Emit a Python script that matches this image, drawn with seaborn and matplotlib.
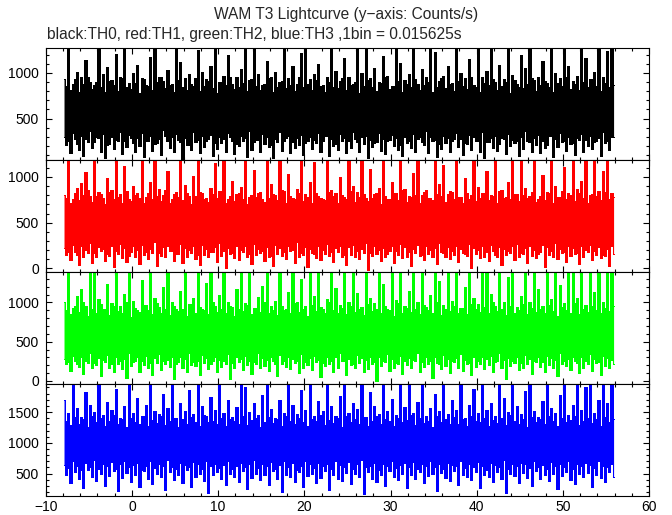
import numpy as np
import pandas as pd
import matplotlib
matplotlib.use('Agg')
import matplotlib.pyplot as plt
from matplotlib.ticker import MultipleLocator
import seaborn as sns

# WAM T3 lightcurve in 0.25 s slices.
# *_hi / *_lo : peaks of the upward / downward spikes
# *_top / *_bot : top / bottom of the solid band between those spikes
title = 'WAM T3 Lightcurve (y\u2212axis: Counts/s)'
subtitle = 'black:TH0, red:TH1, green:TH2, blue:TH3 ,1bin = 0.015625s'
t_start, t_stop = -8.0, 56.0
x_ticks = [-10, 0, 10, 20, 30, 40, 50, 60]

th0_hi = [930, 1280, 880, 1010, 960, 1140, 900, 870, 1280, 990, 1060, 920, 1210, 950, 1280, 890, 1000, 1090, 940, 870,
          1170, 1280, 960, 910, 1030, 880, 1280, 1120, 940, 990, 860, 1250, 1010, 930, 1080, 1280, 900, 970, 1190, 880,
          950, 1040, 1280, 920, 1280, 990, 870, 1130, 960, 1010, 900, 1280, 940, 1070, 880, 1220, 1280, 930, 990, 1100,
          870, 960, 1280, 1020, 910, 1160, 950, 880, 1280, 1000, 1280, 940, 1050, 900, 1180, 970, 860, 1280, 1110, 920,
          990, 1280, 880, 1040, 950, 1280, 1230, 910, 970, 1070, 890, 1280, 1000, 940, 1150, 870, 1280, 960, 1020, 1280,
          900, 1090, 930, 1280, 980, 880, 1200, 1050, 1280, 920, 960, 1130, 890, 1280, 1000, 940, 1280, 1080, 910, 970,
          1280, 1160, 930, 1010, 1280, 960, 1240, 1280]
th0_lo = [210, 120, 280, 160, 90, 240, 180, 300, 130, 70, 220, 170, 250, 110, 190, 290, 140, 200, 80, 260,
          150, 230, 100, 310, 180, 130, 270, 60, 210, 160, 240, 120, 190, 280, 90, 170, 230, 140, 300, 110,
          200, 250, 80, 160, 270, 130, 220, 190, 70, 240, 150, 290, 120, 180, 210, 100, 260, 170, 230, 140,
          310, 90, 200, 160, 250, 120, 180, 280, 130, 220, 70, 190, 240, 150, 110, 270, 200, 160, 90, 230,
          180, 130, 300, 210, 120, 250, 80, 170, 230, 140, 280, 190, 100, 220, 160, 260, 130, 70, 240, 180,
          150, 290, 110, 200, 230, 90, 170, 260, 140, 210, 120, 180, 310, 80, 190, 240, 150, 220, 100, 270,
          130, 200, 170, 250, 90, 230, 160, 300]
th0_top = [860, 810, 930, 790, 880, 950, 820, 900, 840, 790, 910, 870, 800, 940, 850, 820, 890, 780, 930, 860,
           810, 900, 950, 830, 870, 790, 920, 850, 810, 880, 940, 800, 860, 910, 830, 780, 900, 870, 950, 820,
           840, 890, 800, 930, 860, 810, 880, 940, 790, 850, 910, 830, 870, 800, 960, 840, 880, 810, 920, 860,
           790, 900, 850, 830, 940, 810, 870, 900, 780, 860, 920, 840, 800, 890, 950, 820, 860, 910, 790, 880,
           840, 930, 810, 870, 900, 790, 850, 940, 830, 880, 800, 910, 860, 820, 950, 840, 790, 890, 870, 930,
           810, 860, 900, 780, 920, 850, 830, 880, 940, 800, 870, 910, 840, 790, 890, 860, 950, 820, 880, 810,
           900, 840, 930, 860, 800, 890, 850, 870]
th0_bot = [300, 260, 340, 220, 310, 280, 360, 240, 290, 330, 210, 300, 270, 350, 250, 320, 230, 290, 340, 260,
           310, 220, 280, 370, 250, 300, 330, 240, 290, 210, 350, 270, 310, 260, 320, 230, 300, 280, 340, 250,
           220, 310, 290, 360, 240, 270, 330, 300, 210, 280, 350, 260, 310, 240, 290, 320, 230, 300, 270, 340,
           250, 310, 280, 220, 330, 290, 260, 350, 240, 300, 310, 270, 230, 340, 280, 250, 320, 290, 210, 300,
           260, 330, 280, 240, 360, 300, 270, 220, 310, 290, 250, 340, 280, 230, 320, 300, 260, 350, 240, 290,
           310, 220, 280, 330, 270, 250, 300, 360, 240, 290, 320, 260, 210, 310, 280, 340, 250, 300, 230, 290,
           330, 270, 310, 240, 290, 350, 260, 300]

th1_hi = [800, 1190, 760, 880, 930, 1050, 790, 1190, 840, 770, 990, 860, 1190, 810, 1120, 760, 900, 830, 1190, 780,
          950, 1190, 870, 800, 1060, 760, 840, 1190, 910, 790, 1010, 1190, 820, 770, 880, 1150, 850, 1190, 760, 960,
          810, 890, 1190, 780, 1080, 830, 760, 1190, 920, 800, 1190, 850, 1030, 770, 870, 1190, 810, 940, 1160, 790,
          760, 1190, 860, 820, 1000, 780, 1190, 900, 840, 1190, 770, 1090, 810, 880, 1190, 760, 950, 830, 1190, 870,
          790, 1040, 1190, 800, 860, 770, 1190, 920, 1130, 810, 840, 1190, 780, 990, 760, 1190, 890, 830, 1070, 800,
          1190, 850, 770, 940, 1190, 810, 1180, 880, 790, 1190, 760, 1020, 840, 1190, 900, 780, 1110, 820, 1190, 870,
          960, 1190, 800, 1190, 850, 1060, 1190, 830]
th1_lo = [150, 90, 180, 40, 130, 170, 60, 120, 190, 80, 140, 20, 160, 110, 70, 180, 130, 50, 150, 100,
          170, 30, 140, 120, 190, 80, 160, 60, 130, 170, 100, 40, 150, 120, 180, 70, 140, 10, 160, 110,
          90, 180, 130, 50, 150, 170, 80, 120, 30, 160, 140, 100, 190, 60, 130, 150, 20, 170, 110, 90,
          160, 140, 70, 180, 120, 40, 150, 130, 100, 170, -20, 140, 160, 80, 120, 190, 60, 150, 110, 130,
          30, 170, 140, 90, 160, 120, 50, 180, 130, 100, 150, 70, 170, 140, 0, 160, 110, 130, 80, 190,
          120, 40, 150, 170, 90, 130, 160, 60, 140, 110, 180, 20, 150, 120, 100, 170, 70, 140, 160, 50,
          130, 180, 90, 150, 110, 140, 30, 160]
th1_top = [770, 720, 830, 750, 800, 860, 730, 790, 810, 700, 840, 760, 780, 720, 850, 740, 800, 770, 710, 830,
           760, 790, 740, 860, 720, 810, 780, 750, 830, 700, 790, 840, 760, 730, 810, 770, 850, 720, 790, 740,
           820, 760, 700, 800, 780, 840, 730, 770, 810, 750, 860, 720, 790, 760, 830, 740, 780, 710, 820, 770,
           750, 840, 790, 720, 800, 760, 850, 730, 780, 810, 740, 770, 830, 700, 790, 760, 820, 750, 860, 730,
           780, 800, 720, 840, 770, 750, 810, 790, 730, 850, 760, 780, 710, 820, 800, 740, 770, 830, 750, 790,
           720, 860, 780, 760, 810, 740, 800, 770, 840, 730, 790, 750, 820, 710, 780, 850, 760, 800, 740, 830,
           770, 720, 810, 790, 750, 840, 760, 780]
th1_bot = [220, 180, 260, 150, 240, 200, 280, 170, 230, 210, 160, 250, 190, 270, 220, 140, 240, 200, 260, 180,
           210, 290, 170, 230, 250, 190, 160, 270, 220, 200, 240, 150, 260, 210, 180, 230, 280, 190, 220, 170,
           250, 200, 240, 160, 270, 210, 190, 230, 140, 260, 220, 180, 250, 200, 290, 170, 230, 210, 160, 240,
           200, 270, 180, 220, 250, 150, 230, 260, 190, 210, 280, 170, 240, 200, 220, 160, 250, 190, 270, 230,
           180, 210, 260, 150, 240, 200, 220, 280, 170, 230, 190, 250, 210, 160, 270, 220, 200, 240, 180, 260,
           150, 230, 210, 190, 250, 270, 170, 220, 240, 200, 160, 260, 230, 190, 280, 210, 180, 250, 220, 170,
           240, 200, 260, 190, 230, 150, 210, 250]

th2_hi = [1010, 1390, 930, 1080, 1170, 960, 1390, 1390, 1040, 910, 1230, 990, 1390, 950, 1110, 1390, 1020, 900, 1280, 970,
          1390, 1060, 940, 1190, 1390, 1000, 920, 1140, 1390, 980, 1050, 1390, 910, 1250, 1390, 960, 1090, 1390, 1010, 940,
          1170, 1390, 990, 1390, 930, 1070, 1210, 1390, 960, 1020, 1390, 900, 1130, 1390, 1000, 1300, 950, 1390, 1080, 1390,
          920, 1040, 1390, 1180, 970, 1390, 1010, 1390, 1120, 940, 1390, 1060, 990, 1390, 1240, 910, 1390, 1030, 1390, 960,
          1150, 1390, 1000, 1390, 940, 1090, 1390, 1270, 970, 1390, 1020, 1390, 930, 1200, 1390, 1050, 980, 1390, 1390, 1110,
          960, 1390, 1010, 1320, 1390, 940, 1080, 1390, 1000, 1390, 1170, 950, 1390, 1040, 1390, 1220, 990, 1390, 1390, 1060,
          1390, 970, 1390, 1130, 1390, 1010, 1390, 1390]
th2_lo = [210, 130, 250, 180, 90, 230, 160, 200, 60, 240, 170, 120, 220, 150, 40, 190, 250, 110, 200, 170,
          80, 230, 140, 210, 180, 30, 240, 160, 120, 200, 190, 70, 230, 150, 250, 110, 180, 210, 20, 170,
          240, 140, 200, 90, 220, 160, 190, 130, 250, 60, 210, 180, 150, 230, 100, 170, 200, 140, 240, 50,
          190, 220, 120, 160, 250, 80, 200, 170, 230, 110, 150, 210, 0, 190, 240, 130, 170, 220, 90, 200,
          160, 250, 120, 180, 210, 40, 230, 150, 190, 100, 240, 170, 130, 210, 70, 180, 220, 150, 200, 110,
          250, 160, 30, 190, 230, 140, 170, 210, 90, 240, 180, 120, 200, 160, 60, 220, 190, 140, 250, 100,
          170, 210, 130, 230, 80, 190, 160, 220]
th2_top = [900, 850, 960, 880, 1000, 830, 920, 870, 980, 910, 840, 950, 890, 860, 1000, 820, 930, 880, 970, 900,
           850, 990, 870, 920, 840, 960, 890, 910, 830, 980, 870, 940, 900, 850, 1000, 880, 920, 860, 960, 830,
           910, 890, 970, 850, 930, 880, 1000, 870, 900, 840, 950, 920, 860, 990, 880, 910, 830, 970, 890, 940,
           860, 1000, 900, 870, 930, 850, 960, 880, 910, 840, 980, 890, 920, 860, 950, 900, 830, 990, 870, 930,
           880, 910, 850, 970, 900, 860, 1000, 840, 920, 890, 960, 870, 930, 850, 980, 910, 880, 940, 860, 1000,
           890, 920, 840, 950, 870, 900, 980, 850, 930, 880, 910, 860, 970, 890, 830, 940, 900, 870, 990, 850,
           920, 880, 960, 900, 860, 930, 890, 950]
th2_bot = [280, 240, 320, 210, 300, 260, 350, 230, 290, 270, 330, 220, 310, 250, 280, 360, 240, 300, 260, 320,
           230, 290, 340, 250, 270, 310, 220, 300, 280, 350, 240, 260, 330, 290, 210, 310, 270, 250, 340, 230,
           300, 280, 320, 260, 240, 350, 290, 270, 310, 220, 330, 250, 300, 280, 260, 340, 240, 290, 320, 270,
           230, 310, 260, 300, 350, 250, 280, 220, 330, 290, 270, 310, 240, 300, 260, 340, 280, 230, 320, 250,
           290, 270, 350, 240, 310, 260, 300, 220, 330, 280, 250, 290, 340, 270, 230, 310, 260, 300, 280, 320,
           240, 350, 270, 290, 250, 310, 230, 330, 280, 260, 300, 240, 320, 290, 270, 350, 250, 280, 310, 230,
           300, 260, 340, 280, 240, 320, 290, 270]

th3_hi = [1700, 1480, 1956, 1560, 1420, 1830, 1610, 1500, 1956, 1450, 1670, 1540, 1880, 1410, 1590, 1956, 1490, 1720, 1430, 1620,
          1956, 1510, 1460, 1790, 1570, 1956, 1400, 1650, 1520, 1860, 1470, 1956, 1600, 1440, 1740, 1530, 1956, 1480, 1690, 1420,
          1580, 1956, 1910, 1500, 1640, 1450, 1780, 1956, 1550, 1410, 1700, 1490, 1956, 1620, 1460, 1850, 1530, 1956, 1440, 1680,
          1510, 1956, 1590, 1430, 1760, 1956, 1480, 1640, 1550, 1956, 1420, 1820, 1600, 1470, 1956, 1520, 1710, 1450, 1956, 1580,
          1940, 1490, 1660, 1956, 1430, 1570, 1800, 1510, 1956, 1460, 1690, 1540, 1956, 1410, 1620, 1870, 1480, 1956, 1530, 1650,
          1440, 1956, 1730, 1500, 1956, 1590, 1460, 1840, 1956, 1520, 1420, 1680, 1956, 1560, 1490, 1770, 1956, 1450, 1610, 1956,
          1530, 1900, 1956, 1480, 1700, 1956, 1640, 1956]
th3_lo = [480, 350, 520, 420, 260, 560, 440, 380, 500, 300, 460, 540, 210, 430, 510, 370, 480, 280, 550, 410,
          330, 490, 450, 230, 520, 400, 470, 350, 560, 290, 440, 500, 380, 180, 470, 530, 420, 310, 490, 450,
          360, 540, 250, 430, 500, 390, 470, 320, 550, 410, 200, 480, 440, 370, 520, 280, 460, 500, 350, 430,
          540, 240, 470, 410, 380, 510, 330, 490, 450, 170, 520, 420, 360, 480, 300, 540, 440, 390, 500, 260,
          470, 420, 530, 340, 460, 490, 220, 510, 430, 380, 550, 310, 470, 440, 400, 520, 270, 480, 450, 360,
          530, 410, 190, 490, 460, 350, 510, 430, 300, 540, 420, 470, 380, 500, 250, 460, 520, 400, 330, 490,
          440, 510, 280, 470, 430, 360, 520, 450]
th3_top = [1350, 1290, 1420, 1310, 1380, 1260, 1440, 1330, 1400, 1280, 1360, 1450, 1300, 1390, 1250, 1410, 1340, 1300, 1430, 1270,
           1370, 1320, 1440, 1290, 1350, 1400, 1260, 1380, 1310, 1420, 1340, 1280, 1450, 1330, 1360, 1300, 1410, 1270, 1390, 1350,
           1310, 1430, 1290, 1370, 1400, 1250, 1340, 1420, 1320, 1380, 1280, 1440, 1360, 1300, 1410, 1330, 1270, 1390, 1350, 1450,
           1290, 1370, 1320, 1400, 1260, 1430, 1340, 1380, 1310, 1420, 1280, 1360, 1440, 1300, 1390, 1350, 1270, 1410, 1330, 1370,
           1450, 1290, 1400, 1320, 1360, 1250, 1430, 1340, 1380, 1300, 1420, 1310, 1390, 1280, 1440, 1350, 1330, 1410, 1270, 1370,
           1320, 1400, 1290, 1450, 1360, 1310, 1380, 1260, 1420, 1340, 1390, 1300, 1430, 1350, 1280, 1410, 1330, 1370, 1440, 1290,
           1360, 1400, 1320, 1380, 1270, 1420, 1340, 1390]
th3_bot = [640, 590, 700, 620, 560, 680, 610, 720, 580, 660, 630, 690, 570, 650, 710, 600, 640, 680, 560, 620,
           700, 590, 660, 630, 720, 610, 570, 680, 640, 600, 690, 650, 580, 710, 620, 660, 590, 640, 700, 570,
           630, 680, 610, 650, 720, 590, 660, 620, 690, 580, 640, 700, 600, 670, 560, 630, 710, 650, 590, 680,
           620, 660, 570, 700, 640, 610, 690, 580, 650, 720, 600, 630, 680, 560, 660, 620, 700, 590, 640, 670,
           610, 690, 580, 650, 630, 710, 600, 660, 570, 680, 640, 620, 700, 590, 650, 610, 690, 630, 560, 670,
           640, 600, 720, 580, 660, 620, 680, 650, 590, 700, 610, 640, 570, 690, 630, 660, 600, 710, 580, 650,
           620, 680, 640, 590, 700, 630, 610, 660]

channels = [
    ('TH0', 'black', th0_hi, th0_lo, th0_top, th0_bot, (50, 1275)),
    ('TH1', 'red', th1_hi, th1_lo, th1_top, th1_bot, (-37, 1188)),
    ('TH2', '#00ff00', th2_hi, th2_lo, th2_top, th2_bot, (-38, 1389)),
    ('TH3', 'blue', th3_hi, th3_lo, th3_top, th3_bot, (137, 1956)),
]

sns.set_theme(style='ticks')
plt.rcParams['font.family'] = ['Liberation Sans', 'DejaVu Sans']

fig, axes = plt.subplots(4, 1, sharex=True, figsize=(6.72, 5.15), dpi=100)
fig.subplots_adjust(left=0.068, right=0.966, top=0.9074, bottom=0.0369, hspace=0)

for ax, (name, color, hi, lo, top, bot, ylim) in zip(axes, channels):
    n = len(hi) + len(lo)
    step = (t_stop - t_start) / n
    t = t_start + step / 2 + step * np.arange(n)
    # even slices spike upward, odd slices spike downward
    upper = np.empty(n)
    lower = np.empty(n)
    upper[0::2] = hi
    upper[1::2] = top
    lower[0::2] = bot
    lower[1::2] = lo
    df = pd.DataFrame({'time': t, 'upper': upper, 'lower': lower})

    ax.fill_between(df['time'], df['lower'], df['upper'], step='mid',
                    color=color, lw=0, antialiased=False)
    for col in ['upper', 'lower']:
        sns.lineplot(data=df, x='time', y=col, ax=ax, color=color, lw=0.6,
                     drawstyle='steps-mid', estimator=None, sort=False,
                     antialiased=False)

    ax.set_ylim(*ylim)
    ax.set_xlim(-10, 60)
    ax.set_xlabel('')
    ax.set_ylabel('')
    ax.yaxis.set_major_locator(MultipleLocator(500))
    ax.yaxis.set_minor_locator(MultipleLocator(100))
    ax.xaxis.set_major_locator(MultipleLocator(10))
    ax.xaxis.set_minor_locator(MultipleLocator(2))
    ax.tick_params(which='both', direction='in', top=True, right=True,
                   color='black', width=0.8, labelsize=10, labelcolor='black')
    ax.tick_params(which='major', length=4.5)
    ax.tick_params(which='minor', length=2.2)
    ax.tick_params(axis='y', pad=5)
    ax.tick_params(axis='x', pad=3)
    for sp in ax.spines.values():
        sp.set_visible(True)
        sp.set_linewidth(0.8)
        sp.set_color('black')
    ax.set_facecolor('white')

axes[-1].set_xticks(x_ticks)

fig.text(0.515, 1 - 15 / 515, title, ha='center', va='center', fontsize=11.2)
fig.text(47 / 672, 1 - 35 / 515, subtitle, ha='left', va='center', fontsize=11.2)

plt.savefig('out.png', dpi=100)
plt.close()
